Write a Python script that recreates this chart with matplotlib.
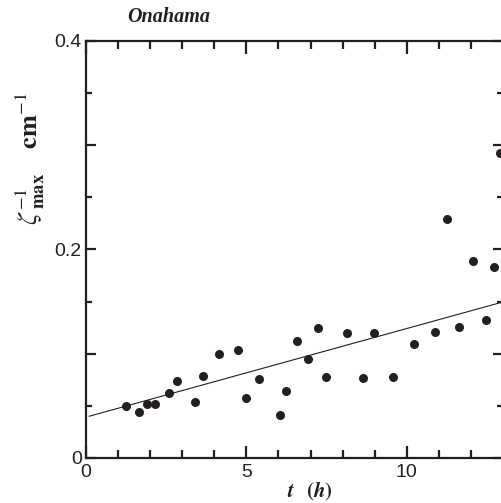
import matplotlib
matplotlib.use("Agg")
import matplotlib.pyplot as plt
import numpy as np
from matplotlib.ticker import MultipleLocator, FixedLocator, FuncFormatter

# measured points: time (h) vs inverse correlation length (cm^-1)
t_h = [1.24, 1.66, 1.90, 2.15, 2.58, 2.83, 3.41, 3.64, 4.14, 4.74, 4.98,
       5.40, 6.06, 6.23, 6.57, 6.91, 7.24, 7.49, 8.15, 8.65, 8.98, 9.56,
       10.23, 10.89, 11.24, 11.64, 12.07, 12.48, 12.73, 12.92]
zeta_inv = [0.0496, 0.0445, 0.0518, 0.0518, 0.0621, 0.0743, 0.0538, 0.0784,
            0.0998, 0.1034, 0.0576, 0.0759, 0.0413, 0.0647, 0.1120, 0.0954,
            0.1245, 0.0778, 0.1200, 0.0772, 0.1200, 0.0778, 0.1089, 0.1213,
            0.2290, 0.1258, 0.1885, 0.1328, 0.1834, 0.2930]

# linear fit drawn in the figure
fit_intercept = 0.0392
fit_slope = 0.0085
fit_range = [0.1, 13.0]

INK = "#231f20"
plt.rcParams["mathtext.fontset"] = "stix"

fig = plt.figure(figsize=(5.02, 5.03), dpi=100)
ax = fig.add_axes([86 / 502, 45 / 503, 417 / 502, 417 / 503])

ax.scatter(t_h, zeta_inv, s=30, color=INK, zorder=3, clip_on=False)
xf = np.array(fit_range)
ax.plot(xf, fit_intercept + fit_slope * xf, color=INK, lw=0.8)

ax.set_xlim(0, 13)
ax.set_ylim(0, 0.4)
ax.xaxis.set_major_locator(FixedLocator([0, 5, 10]))
ax.xaxis.set_minor_locator(MultipleLocator(1))
ax.yaxis.set_major_locator(MultipleLocator(0.1))
ax.yaxis.set_minor_locator(MultipleLocator(0.05))
ax.xaxis.set_major_formatter(FuncFormatter(lambda v, p: f"{v:g}"))
ax.yaxis.set_major_formatter(
    FuncFormatter(lambda v, p: f"{v:g}" if round(v * 10) % 2 == 0 else ""))

for s in ax.spines.values():
    s.set_linewidth(1.6)
    s.set_color(INK)
ax.tick_params(which="both", direction="in", top=True, right=True,
               color=INK, width=1.6)
ax.tick_params(which="major", length=7)
ax.tick_params(which="minor", length=4)
ax.tick_params(axis="x", which="major", length=9, pad=4)
ax.tick_params(axis="x", which="minor", length=6)
ax.tick_params(axis="y", pad=3)
for lab in ax.get_xticklabels() + ax.get_yticklabels():
    lab.set_fontfamily("Liberation Sans")
    lab.set_fontsize(14)
    lab.set_color(INK)

fig.text(169 / 502, 1 - 17 / 503, "Onahama", family="Liberation Serif",
         weight="bold", style="italic", fontsize=14.5, color=INK,
         ha="center", va="center")
fig.text(310 / 502, 1 - 491 / 503, "$\\boldsymbol{t}$  $\\mathbf{(}\\boldsymbol{h}\\mathbf{)}$",
         fontsize=15, color=INK, ha="center", va="center")
fig.text(30 / 502, 1 - 159 / 503,
         "$\\zeta^{-1}_{\\ \\mathbf{max}}$   $\\mathbf{cm}^{-1}$",
         fontsize=19, color=INK, rotation=90, ha="center", va="center")

fig.savefig("out.png", dpi=100, facecolor="white")
